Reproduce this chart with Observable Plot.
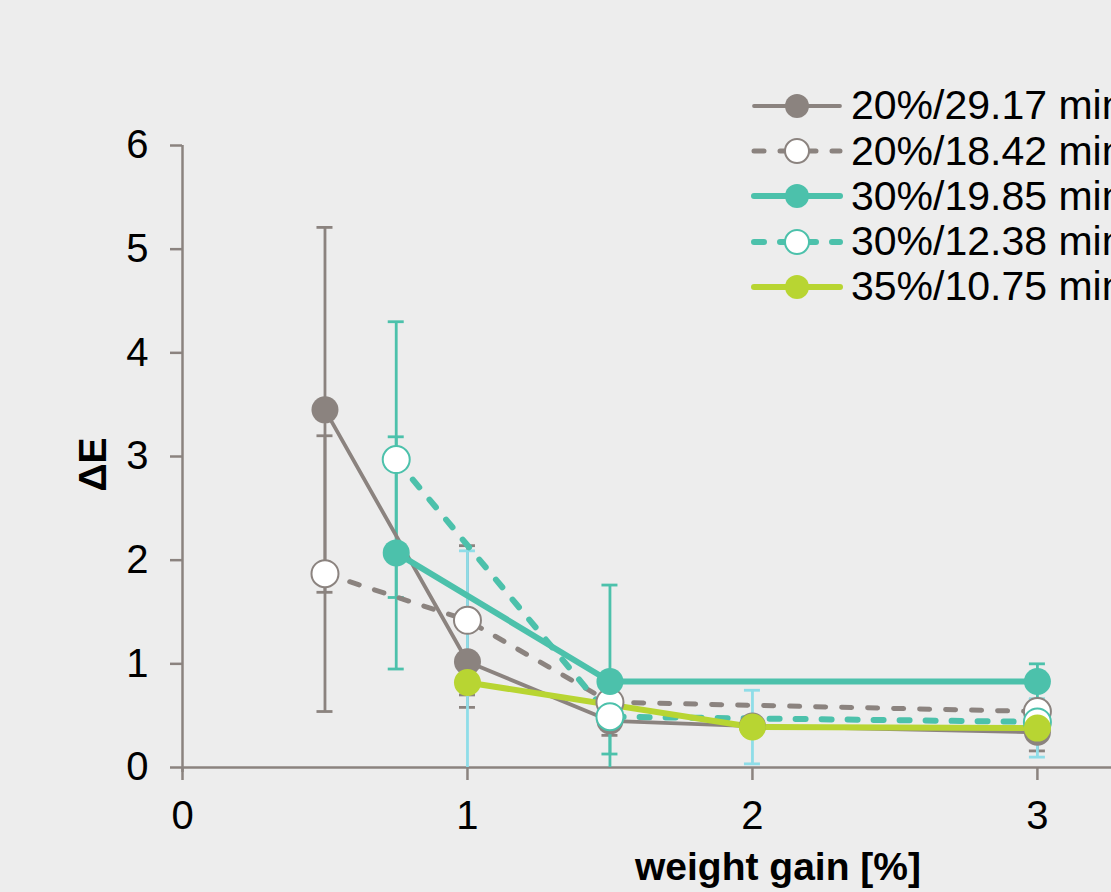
<!DOCTYPE html>
<html><head><meta charset="utf-8">
<script src="https://cdn.jsdelivr.net/npm/d3@7"></script>
<script src="https://cdn.jsdelivr.net/npm/@observablehq/plot@0.6"></script>
<style>
html,body{margin:0;padding:0;background:#ededed;overflow:hidden;width:1111px;height:892px}
#wrap{position:relative;width:1111px;height:892px;overflow:hidden}
#legend{position:absolute;left:752px;top:83.4px;font-family:"Liberation Sans",Arial,sans-serif;font-size:41px;color:#000;white-space:nowrap}
.row{height:45.2px;display:flex;align-items:center}
.row svg{width:96px;height:40px;margin-right:3px;flex:none;overflow:visible}
</style></head>
<body><div id="wrap"><div id="chart"></div><div id="legend"></div></div>
<script>
// ---- data ----
const seriesNames = ["20%/29.17 min", "20%/18.42 min", "30%/19.85 min", "30%/12.38 min", "35%/10.75 min"];

const s1X = [0.5, 1, 1.5, 2, 3];
const s1Y = [3.45, 1.02, 0.45, 0.40, 0.34];
const s1Err = [1.76, 0.44, 0.14, 0.05, 0.18];

const s2X = [0.5, 1, 1.5, 3];
const s2Y = [1.87, 1.42, 0.63, 0.54];
const s2Err = [1.33, 0.72, 0.10, 0.10];

const s3X = [0.75, 1.5, 3];
const s3Y = [2.07, 0.83, 0.83];
const s3Err = [1.12, 0.93, 0.17];

const s4X = [0.75, 1.5, 3];
const s4Y = [2.97, 0.49, 0.44];
const s4Err = [1.33, 0.36, 0.10];

const s5X = [1, 2, 3];
const s5Y = [0.82, 0.39, 0.38];
const s5Err = [1.27, 0.355, 0.28];

const xTicks = [0, 1, 2, 3];
const yTicks = [0, 1, 2, 3, 4, 5, 6];

// ---- styles ----
const GRAY = "#8b837f", TEAL = "#4cc1ab", LIME = "#b8d532", CYAN = "#8fdde8";
const styles = [
  {color: GRAY, err: GRAY, width: 3.8, dash: null, fill: GRAY, mstroke: "none"},
  {color: GRAY, err: GRAY, width: 5, dash: "10,16", fill: "#fff", mstroke: GRAY},
  {color: TEAL, err: TEAL, width: 6, dash: null, fill: TEAL, mstroke: "none"},
  {color: TEAL, err: TEAL, width: 6, dash: "10,16", fill: "#fff", mstroke: TEAL},
  {color: LIME, err: CYAN, width: 6, dash: null, fill: LIME, mstroke: "none"}
];

const allX = [s1X, s2X, s3X, s4X, s5X], allY = [s1Y, s2Y, s3Y, s4Y, s5Y], allE = [s1Err, s2Err, s3Err, s4Err, s5Err];
const series = seriesNames.map((name, k) => ({
  name, st: styles[k],
  rows: allX[k].map((x, i) => ({x, y: allY[k][i], lo: allY[k][i] - allE[k][i], hi: allY[k][i] + allE[k][i]}))
}));

const errMarks = [], lineMarks = [], dotMarks = [];
for (const s of series) {
  errMarks.push(Plot.ruleX(s.rows, {x: "x", y1: "lo", y2: "hi", stroke: s.st.err, strokeWidth: 2.8, clip: true}));
  errMarks.push(Plot.ruleY(s.rows, {y: "hi", x1: "x", x2: "x", insetLeft: -8, insetRight: -8, stroke: s.st.err, strokeWidth: 2.8, clip: true}));
  errMarks.push(Plot.ruleY(s.rows, {y: "lo", x1: "x", x2: "x", insetLeft: -8, insetRight: -8, stroke: s.st.err, strokeWidth: 2.8, clip: true}));
  lineMarks.push(Plot.line(s.rows, {x: "x", y: "y", stroke: s.st.color, strokeWidth: s.st.width, strokeDasharray: s.st.dash, strokeLinecap: "round", strokeLinejoin: "round"}));
  dotMarks.push(Plot.dot(s.rows, {x: "x", y: "y", r: 13.5, fill: s.st.fill, stroke: s.st.mstroke, strokeWidth: 2}));
}

const chart = Plot.plot({
  width: 1111, height: 892,
  marginLeft: 182, marginRight: 0, marginTop: 145, marginBottom: 125,
  style: {background: "transparent", fontFamily: "'Liberation Sans', Arial, sans-serif", color: "#000"},
  x: {domain: [0, 3.26], axis: null},
  y: {domain: [0, 6], axis: null},
  marks: [
    Plot.axisY({ticks: yTicks, tickSize: 12, tickPadding: 22, fontSize: 40, stroke: GRAY, strokeWidth: 2.5, fill: "#000", label: null, tickFormat: d3.format("d")}),
    Plot.axisX({ticks: xTicks, tickSize: 13, tickPadding: 20, fontSize: 40, stroke: GRAY, strokeWidth: 2.5, fill: "#000", label: null, tickFormat: d3.format("d")}),
    Plot.ruleY([0], {stroke: GRAY, strokeWidth: 2.5}),
    Plot.ruleX([0], {stroke: GRAY, strokeWidth: 2.5, insetBottom: -5}),
    ...errMarks,
    ...lineMarks,
    ...dotMarks,
    Plot.text(["ΔE"], {frameAnchor: "left", textAnchor: "middle", lineAnchor: "middle", rotate: -90, dx: -89, dy: 8, fontWeight: "bold", fontSize: 39, fill: "#000"}),
    Plot.text(["weight gain [%]"], {frameAnchor: "bottom", textAnchor: "middle", lineAnchor: "middle", dx: 131, dy: 100, fontWeight: "bold", fontSize: 39, fill: "#000"})
  ]
});
document.getElementById("chart").appendChild(chart);

// ---- legend ----
const legend = document.getElementById("legend");
for (const s of series) {
  const row = document.createElement("div");
  row.className = "row";
  const st = s.st;
  row.innerHTML = `<svg viewBox="0 0 96 40"><line x1="2" y1="20" x2="88" y2="20" stroke="${st.color}" stroke-width="${st.width}" stroke-linecap="round" ${st.dash ? `stroke-dasharray="${st.dash}"` : ""}/><circle cx="45" cy="20" r="12" fill="${st.fill}" stroke="${st.mstroke}" stroke-width="2"/></svg><span>${s.name}</span>`;
  legend.appendChild(row);
}
</script>
</body></html>
